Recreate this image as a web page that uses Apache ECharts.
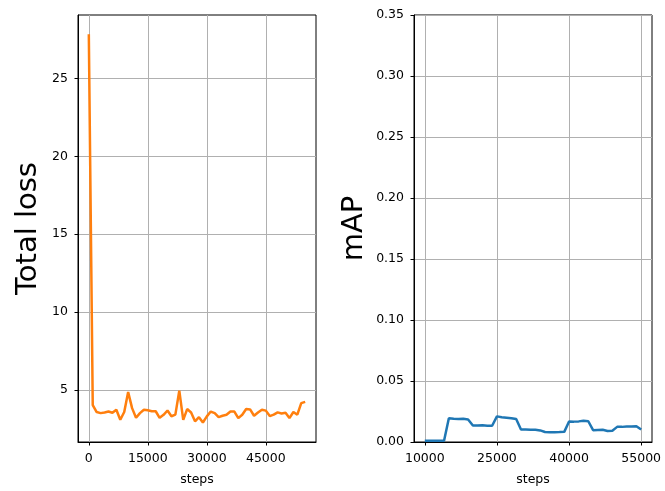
<!DOCTYPE html>
<html>
<head>
<meta charset="utf-8">
<script src="https://cdn.jsdelivr.net/npm/echarts@6/dist/echarts.min.js"></script>
<style>
html, body { margin: 0; padding: 0; background: #fff; }
#main { width: 665px; height: 491px; }
</style>
</head>
<body>
<div id="main"></div>
<script>
// training loss, one point every 1000 steps
var lossSteps = [0, 1000, 2000, 3000, 4000, 5000, 6000, 7000, 8000, 9000,
	10000, 11000, 12000, 13000, 14000, 15000, 16000, 17000, 18000, 19000,
	20000, 21000, 22000, 23000, 24000, 25000, 26000, 27000, 28000, 29000,
	30000, 31000, 32000, 33000, 34000, 35000, 36000, 37000, 38000, 39000,
	40000, 41000, 42000, 43000, 44000, 45000, 46000, 47000, 48000, 49000,
	50000, 51000, 52000, 53000, 54000, 55000];
var lossValues = [27.85, 4.02, 3.57, 3.5, 3.54, 3.6, 3.52, 3.72, 3.07, 3.57,
	4.85, 3.82, 3.2, 3.5, 3.72, 3.68, 3.62, 3.62, 3.2, 3.39,
	3.67, 3.3, 3.4, 4.94, 3.07, 3.76, 3.54, 2.97, 3.24, 2.9,
	3.29, 3.6, 3.5, 3.24, 3.33, 3.39, 3.6, 3.6, 3.18, 3.39,
	3.76, 3.74, 3.33, 3.54, 3.72, 3.66, 3.31, 3.4, 3.55, 3.48,
	3.52, 3.18, 3.57, 3.4, 4.14, 4.22];

// evaluation mAP
var mapSteps = [10000, 11000, 12000, 13000, 14000, 15000, 16000, 17000, 18000, 19000,
	20000, 21000, 22000, 23000, 24000, 25000, 26000, 27000, 28000, 29000,
	30000, 31000, 32000, 33000, 34000, 35000, 36000, 37000, 38000, 39000,
	40000, 41000, 42000, 43000, 44000, 45000, 46000, 47000, 48000, 49000,
	50000, 51000, 52000, 53000, 54000, 55000];
var mapValues = [0.001, 0.001, 0.001, 0.001, 0.001, 0.0195, 0.019, 0.0188, 0.019, 0.0185,
	0.0135, 0.0135, 0.0137, 0.0134, 0.0133, 0.021, 0.0203, 0.0199, 0.0195, 0.0188,
	0.0102, 0.0102, 0.0101, 0.0101, 0.0095, 0.0082, 0.008, 0.008, 0.0081, 0.0083,
	0.0168, 0.0167, 0.0169, 0.0174, 0.017, 0.0097, 0.0099, 0.01, 0.009, 0.0093,
	0.0124, 0.0124, 0.0127, 0.0128, 0.0129, 0.0102];

var lossXTicks = [0, 15000, 30000, 45000];
var lossYTicks = [5, 10, 15, 20, 25];
var mapXTicks = [10000, 25000, 40000, 55000];

function pairs(xs, ys) {
	var out = [];
	for (var i = 0; i < xs.length; i++) {
		out.push([xs[i], ys[i]]);
	}
	return out;
}

var font = 'DejaVu Sans';
var labelStyle = { color: '#000', fontSize: 12.5, fontFamily: font, margin: 10 };
var tickStyle = { show: true, inside: false, length: 3.5, lineStyle: { color: '#000', width: 1 } };
var gridLine = { show: true, lineStyle: { color: '#b0b0b0', width: 1 } };
var axisLine = { show: true, onZero: false, lineStyle: { color: '#000', width: 1 } };

function xAxisOf(idx, min, max, ticks) {
	return {
		type: 'value', gridIndex: idx, min: min, max: max,
		name: 'steps', nameLocation: 'middle', nameGap: 31,
		nameTextStyle: { color: '#000', fontSize: 12.5, fontFamily: font },
		axisLine: axisLine,
		axisTick: Object.assign({ customValues: ticks }, tickStyle),
		axisLabel: Object.assign({
			customValues: ticks,
			formatter: function (v) { return String(v); }
		}, labelStyle),
		splitLine: gridLine
	};
}

var myChart = echarts.init(document.getElementById('main'), null, { renderer: 'canvas' });

var option = {
	backgroundColor: '#fff',
	animation: false,
	grid: [
		{ left: 78, top: 15, width: 238, height: 427, show: true, borderColor: '#000', borderWidth: 1, containLabel: false },
		{ left: 414, top: 15, width: 238, height: 427, show: true, borderColor: '#000', borderWidth: 1, containLabel: false }
	],
	xAxis: [
		xAxisOf(0, -2750, 57750, lossXTicks),
		xAxisOf(1, 7750, 57250, mapXTicks)
	],
	yAxis: [
		{
			type: 'value', gridIndex: 0, min: 1.644, max: 29.08,
			name: 'Total loss', nameLocation: 'middle', nameGap: 35,
			nameTextStyle: { color: '#000', fontSize: 29, fontFamily: font },
			axisLine: axisLine,
			axisTick: Object.assign({ customValues: lossYTicks }, tickStyle),
			axisLabel: Object.assign({ customValues: lossYTicks }, labelStyle),
			splitLine: gridLine
		},
		{
			type: 'value', gridIndex: 1, min: 0, max: 0.35, interval: 0.05,
			name: 'mAP', nameLocation: 'middle', nameGap: 45,
			nameTextStyle: { color: '#000', fontSize: 29, fontFamily: font },
			axisLine: axisLine,
			axisTick: tickStyle,
			axisLabel: Object.assign({
				formatter: function (v) { return v.toFixed(2); }
			}, labelStyle),
			splitLine: gridLine
		}
	],
	series: [
		{
			type: 'line', xAxisIndex: 0, yAxisIndex: 0,
			data: pairs(lossSteps, lossValues),
			showSymbol: false, symbol: 'none',
			lineStyle: { color: '#ff7f0e', width: 2.5 },
			clip: true
		},
		{
			type: 'line', xAxisIndex: 1, yAxisIndex: 1,
			data: pairs(mapSteps, mapValues),
			showSymbol: false, symbol: 'none',
			lineStyle: { color: '#1f77b4', width: 2.5 },
			clip: true
		}
	]
};
myChart.setOption(option);
</script>
</body>
</html>
